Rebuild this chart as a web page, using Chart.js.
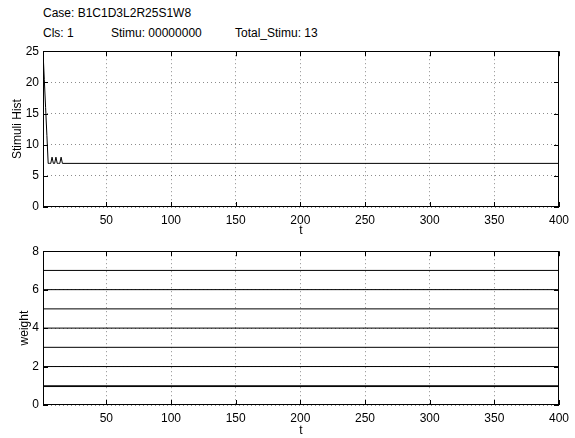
<!DOCTYPE html>
<html>
<head>
<meta charset="utf-8">
<script src="https://cdn.jsdelivr.net/npm/chart.js@4"></script>
<style>
  body { margin: 0; background: #fff; width: 575px; height: 438px; position: relative; overflow: hidden; }
  .txt { position: absolute; font: 12px "Liberation Sans", Arial, sans-serif; color: #000; white-space: pre; line-height: 14px; }
  canvas { position: absolute; left: 0; }
</style>
</head>
<body>
<div class="txt" style="left:43px;top:6px">Case: B1C1D3L2R25S1W8</div>
<div class="txt" style="left:43px;top:26px">Cls: 1</div>
<div class="txt" style="left:111px;top:26px">Stimu: 00000000</div>
<div class="txt" style="left:235px;top:26px">Total_Stimu: 13</div>
<canvas id="stim-chart" width="575" height="198" style="top:40px"></canvas>
<canvas id="weight-chart" width="575" height="198" style="top:240px"></canvas>
<script>
// ── Data ──
const xTicks = [50, 100, 150, 200, 250, 300, 350, 400];

// stimuli history (flat at 7 after t=16)
const stimT   = [1, 2, 3, 4, 5, 6, 7, 8, 9, 10, 11, 12, 13, 14, 15, 16, 400];
const stimVal = [25, 20.5, 16, 11.5, 7, 7, 7, 8, 7, 7, 8, 7, 7, 7, 8, 7, 7];
const stimYTicks = [0, 5, 10, 15, 20, 25];

// weights (constant over t)
const weightT = [1, 400];
const weights = [7, 6, 5, 4, 3, 2, 1, 0.96];
const weightYTicks = [0, 2, 4, 6, 8];

// ── Defaults ──
Chart.defaults.font.family = "'Liberation Sans', Arial, sans-serif";
Chart.defaults.font.size = 12;
Chart.defaults.color = "#000";

// box + inward tick marks, matlab style
const frame = {
  id: "frame",
  afterDraw(chart) {
    const { ctx, chartArea: a, scales: { x, y } } = chart;
    const len = 5;
    ctx.save();
    ctx.strokeStyle = "#000";
    ctx.lineWidth = 1;
    ctx.beginPath();
    x.ticks.forEach(t => {
      const px = Math.round(x.getPixelForValue(t.value)) + 0.5;
      ctx.moveTo(px, a.bottom); ctx.lineTo(px, a.bottom - len);
      ctx.moveTo(px, a.top); ctx.lineTo(px, a.top + len);
    });
    y.ticks.forEach(t => {
      const py = Math.round(y.getPixelForValue(t.value)) + 0.5;
      ctx.moveTo(a.left, py); ctx.lineTo(a.left + len, py);
      ctx.moveTo(a.right, py); ctx.lineTo(a.right - len, py);
    });
    ctx.stroke();
    ctx.strokeRect(Math.round(a.left) + 0.5, Math.round(a.top) + 0.5, Math.round(a.width) - 1, Math.round(a.height) - 1);
    ctx.restore();
  }
};

function makeOptions(yMax, yTicks, yTitle, titlePad, padTop, xAxisH) {
  const grid = { color: "rgba(0,0,0,0.45)", drawTicks: false };
  const border = { display: false, dash: [1, 3] };
  return {
    responsive: false,
    animation: false,
    layout: { padding: { top: padTop, right: 14, left: 0, bottom: 0 } },
    plugins: { legend: { display: false }, tooltip: { enabled: false } },
    scales: {
      x: {
        type: "linear", min: 1, max: 400,
        grid, border,
        ticks: { padding: 6, maxRotation: 0 },
        afterBuildTicks: s => { s.ticks = xTicks.map(v => ({ value: v })); },
        afterFit: s => { s.height = xAxisH; },
        title: { display: true, text: "t", padding: { top: 0, bottom: 0 } },
      },
      y: {
        min: 0, max: yMax,
        grid, border,
        ticks: { padding: 4 },
        afterBuildTicks: s => { s.ticks = yTicks.map(v => ({ value: v })); },
        afterFit: s => { s.width = 43; },
        title: { display: true, text: yTitle, padding: { top: titlePad, bottom: 0 } },
      },
    },
  };
}

const lineDs = (xs, ys) => ({
  data: xs.map((t, i) => ({ x: t, y: ys[i] })),
  borderColor: "#000",
  borderWidth: 1,
  pointRadius: 0,
  tension: 0,
  fill: false,
});

// ── Charts ──
new Chart(document.getElementById("stim-chart"), {
  type: "line",
  data: { datasets: [lineDs(stimT, stimVal)] },
  options: makeOptions(25, stimYTicks, "Stimuli Hist", 10, 8, 31),
  plugins: [frame],
});

new Chart(document.getElementById("weight-chart"), {
  type: "line",
  data: { datasets: weights.map(w => lineDs(weightT, weightT.map(() => w))) },
  options: makeOptions(8, weightYTicks, "weight", 17, 6, 33),
  plugins: [frame],
});
</script>
</body>
</html>
